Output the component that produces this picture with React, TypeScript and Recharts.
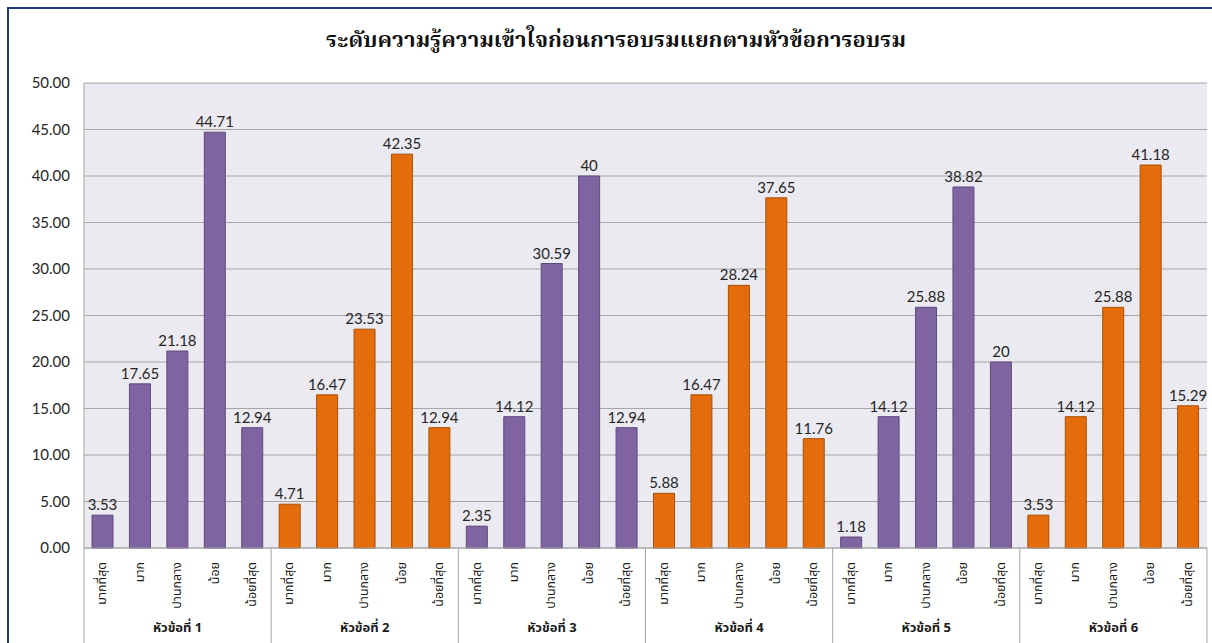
import { Bar, BarChart, CartesianGrid, Cell, LabelList, XAxis, YAxis } from 'recharts'

const levels = ['มากที่สุด', 'มาก', 'ปานกลาง', 'น้อย', 'น้อยที่สุด']
const groups = ['หัวข้อที่ 1', 'หัวข้อที่ 2', 'หัวข้อที่ 3', 'หัวข้อที่ 4', 'หัวข้อที่ 5', 'หัวข้อที่ 6']
const topic1 = [3.53, 17.65, 21.18, 44.71, 12.94]
const topic2 = [4.71, 16.47, 23.53, 42.35, 12.94]
const topic3 = [2.35, 14.12, 30.59, 40, 12.94]
const topic4 = [5.88, 16.47, 28.24, 37.65, 11.76]
const topic5 = [1.18, 14.12, 25.88, 38.82, 20]
const topic6 = [3.53, 14.12, 25.88, 41.18, 15.29]
const yTicks = [0, 5, 10, 15, 20, 25, 30, 35, 40, 45, 50]

const groupColors = [
  { fill: '#8064A2', stroke: '#5E4A7E' },
  { fill: '#E46C0A', stroke: '#A95008' },
]

const rows = [topic1, topic2, topic3, topic4, topic5, topic6].flatMap((vals, g) =>
  vals.map((v, i) => ({
    key: `${g}-${i}`,
    level: levels[i],
    group: groups[g],
    g,
    value: v,
  })),
)

const W = 1212
const H = 643
const PLOT_LEFT = 84
const PLOT_RIGHT = 1207
const PLOT_BOTTOM = 548
const step = (PLOT_RIGHT - PLOT_LEFT) / rows.length

const thaiFont = '"Noto Sans Thai", "Noto Serif Thai", Garuda, Loma, "Tlwg Typo", "DejaVu Sans", sans-serif'

function CategoryTick(props: any) {
  const { x, y, payload } = props
  const idx = payload.index as number
  const row = rows[idx]
  const sepStyle = { stroke: '#A6A6A6', strokeWidth: 1 }
  return (
    <g>
      <text
        x={x}
        y={y + 6}
        transform={`rotate(-90 ${x} ${y + 6})`}
        textAnchor="end"
        dominantBaseline="central"
        fontSize={12.5}
        fontFamily={thaiFont}
        fill="#1A1A1A"
      >
        {row.level}
      </text>
      {idx % 5 === 0 && (
        <line x1={x - step / 2} x2={x - step / 2} y1={PLOT_BOTTOM} y2={H} {...sepStyle} />
      )}
      {idx === rows.length - 1 && (
        <line x1={x + step / 2} x2={x + step / 2} y1={PLOT_BOTTOM} y2={H} {...sepStyle} />
      )}
      {idx % 5 === 2 && (
        <text
          x={x}
          y={632}
          textAnchor="middle"
          fontSize={13}
          fontWeight={700}
          fontFamily={thaiFont}
          fill="#1A1A1A"
        >
          {row.group}
        </text>
      )}
    </g>
  )
}

export default function App() {
  return (
    <div style={{ position: 'relative', width: W, height: H, overflow: 'hidden', background: '#fff' }}>
      <style>{'body{margin:0;overflow:hidden}'}</style>
      <div
        style={{
          position: 'absolute',
          left: 7,
          top: 7,
          width: 1215,
          height: 650,
          borderLeft: '2px solid #1F3A78',
          borderTop: '2px solid #1F3A78',
        }}
      />
      <div
        style={{
          position: 'absolute',
          left: 0,
          width: W,
          top: 24,
          paddingLeft: 20,
          boxSizing: 'border-box',
          textAlign: 'center',
          fontFamily: '"Noto Serif Thai", "Noto Sans Thai", Loma, serif',
          fontWeight: 700,
          fontSize: 22,
          color: '#111',
        }}
      >
        ระดับความรู้ความเข้าใจก่อนการอบรมแยกตามหัวข้อการอบรม
      </div>
      <div style={{ position: 'absolute', left: 0, top: 0 }}>
        <BarChart
          width={W}
          height={H}
          data={rows}
          margin={{ top: 83, right: W - PLOT_RIGHT, bottom: 0, left: 24 }}
        >
          <CartesianGrid vertical={false} stroke="#A6A6A6" fill="#EBEAF0" />
          <XAxis
            dataKey="key"
            interval={0}
            height={H - PLOT_BOTTOM}
            tickLine={false}
            axisLine={{ stroke: '#A6A6A6' }}
            tick={<CategoryTick />}
          />
          <YAxis
            width={60}
            domain={[0, 50]}
            ticks={yTicks}
            tickSize={0}
            tickMargin={14}
            axisLine={{ stroke: '#A6A6A6' }}
            tickFormatter={(v: number) => v.toFixed(2)}
            tick={{ fontSize: 15, fill: '#262626', fontFamily: 'Lato, "Open Sans", sans-serif' }}
          />
          <Bar dataKey="value" barSize={21} strokeWidth={1} isAnimationActive={false}>
            {rows.map((r) => (
              <Cell
                key={r.key}
                fill={groupColors[r.g % 2].fill}
                stroke={groupColors[r.g % 2].stroke}
              />
            ))}
            <LabelList
              dataKey="value"
              position="top"
              offset={5}
              fontSize={15}
              fill="#262626"
              fontFamily='Lato, "Open Sans", sans-serif'
            />
          </Bar>
        </BarChart>
      </div>
    </div>
  )
}
